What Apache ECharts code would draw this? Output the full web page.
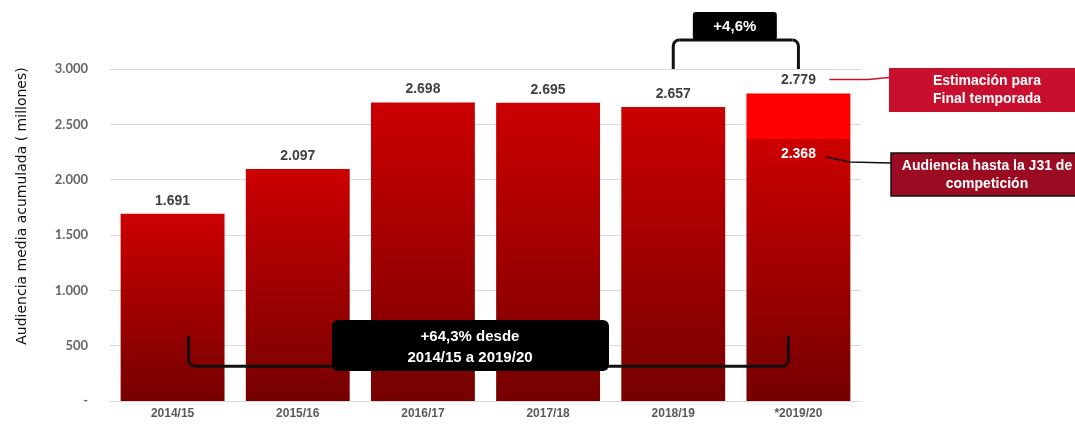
<!DOCTYPE html>
<html>
<head>
<meta charset="utf-8">
<script src="https://cdn.jsdelivr.net/npm/echarts@6/dist/echarts.min.js"></script>
<style>
html,body{margin:0;padding:0;background:#fff;}
#chart{width:1075px;height:424px;}
</style>
</head>
<body>
<div id="chart"></div>
<script>
//temporadas
var temporadas=['2014/15','2015/16','2016/17','2017/18','2018/19','*2019/20'];
//audiencia media acumulada (miles)
var audiencia=[1691,2097,2698,2695,2657,2368];
//estimacion final de la ultima temporada
var estimacionFinal=2779;

function fmt(v){
    var s=String(Math.round(v));
    return s.replace(/\B(?=(\d{3})+(?!\d))/g,'.');
}
var last=audiencia.length-1;
var extra=temporadas.map(function(t,i){return i==last?estimacionFinal-audiencia[i]:'-';});

var grad=new echarts.graphic.LinearGradient(0,0,0,1,[
    {offset:0,color:'#cc0000'},
    {offset:1,color:'#760000'}
]);
var chart=echarts.init(document.getElementById('chart'));
var option={
    animation:false,
    grid:{left:110,right:214,top:69,bottom:23},
    xAxis:{
        type:'category',
        data:temporadas,
        axisLine:{lineStyle:{color:'#d9d9d9',width:1}},
        axisTick:{show:false},
        axisLabel:{color:'#595959',fontWeight:'bold',fontSize:12,fontFamily:'Liberation Sans',margin:7}
    },
    yAxis:{
        type:'value',
        min:0,max:3000,interval:500,
        axisLine:{show:false},
        axisTick:{show:false},
        splitLine:{lineStyle:{color:'#d9d9d9'}},
        axisLabel:{
            color:'#666',fontWeight:'bold',fontSize:13,fontFamily:'Lato',margin:22,
            formatter:function(v){return v==0?'-':fmt(v);}
        }
    },
    series:[{
        type:'bar',
        stack:'a',
        barWidth:'83%',
        data:audiencia.map(function(v,i){
            return {value:v,label:i==last?{position:'insideTop',color:'#fff',offset:[0,2]}:{}};
        }),
        itemStyle:{color:grad},
        label:{show:true,position:'top',color:'#404040',fontWeight:'bold',fontSize:14,
            fontFamily:'Liberation Sans',distance:6,formatter:function(p){return fmt(p.value);}}
    },{
        type:'bar',
        stack:'a',
        barWidth:'83%',
        data:extra,
        itemStyle:{color:'#ff0000'},
        label:{show:true,position:'top',color:'#404040',fontWeight:'bold',fontSize:14,
            fontFamily:'Liberation Sans',distance:6,formatter:function(){return fmt(estimacionFinal);}}
    }]
};
chart.setOption(option);

//anotaciones
function px(i,v){return chart.convertToPixel({gridIndex:0},[i,v]);}
var a=px(4,3000),b=px(last,3000);
var c=px(0,590),d=px(last,315);
var lblTop=px(last,estimacionFinal),lblIn=px(last,audiencia[last]);
var txt={fill:'#fff',fontWeight:'bold',fontFamily:'Liberation Sans',fontSize:14,align:'center',verticalAlign:'middle'};
//llave con esquinas redondeadas
function bracket(x1,x2,yEnd,yMid){
    var r=6,up=yEnd>yMid,st={stroke:'#111',lineWidth:3,fill:null};
    var yc=up?yMid+r:yMid-r;
    return [
        {type:'line',z:100,shape:{x1:x1,y1:yEnd,x2:x1,y2:yc},style:st},
        {type:'line',z:100,shape:{x1:x2,y1:yEnd,x2:x2,y2:yc},style:st},
        {type:'line',z:100,shape:{x1:x1+r,y1:yMid,x2:x2-r,y2:yMid},style:st},
        {type:'arc',z:100,shape:{cx:x1+r,cy:yc,r:r,startAngle:up?Math.PI:Math.PI/2,endAngle:up?Math.PI*1.5:Math.PI},style:st},
        {type:'arc',z:100,shape:{cx:x2-r,cy:yc,r:r,startAngle:up?Math.PI*1.5:0,endAngle:up?Math.PI*2:Math.PI/2},style:st}
    ];
}
var els=[].concat(
    bracket(a[0],b[0],a[1],a[1]-29),
    bracket(c[0]+16,d[0]-10,c[1],d[1]),
    [
    {type:'text',x:22,y:206,rotation:Math.PI/2,
        style:{text:'Audiencia media acumulada ( millones)',fill:'#111',fontFamily:'DejaVu Sans',fontSize:14,
            fontWeight:'normal',align:'center',verticalAlign:'middle'}},
    {type:'rect',z:100,shape:{x:(a[0]+b[0])/2-43,y:12,width:84,height:28,r:3},style:{fill:'#000'}},
    {type:'text',z:101,x:(a[0]+b[0])/2-1,y:27,style:Object.assign({text:'+4,6%'},txt,{fontSize:15})},
    {type:'rect',z:100,shape:{x:332,y:320,width:277,height:51,r:6},style:{fill:'#000'}},
    {type:'text',z:101,x:470,y:347,style:Object.assign({text:'+64,3% desde\n2014/15 a 2019/20',lineHeight:21},txt,{fontSize:15})},
    {type:'polyline',z:100,shape:{points:[[lblTop[0]+31,lblTop[1]-14],[868,lblTop[1]-14],[889,lblTop[1]-16]]},
        style:{stroke:'#c8102e',lineWidth:1.5,fill:null}},
    {type:'rect',z:100,shape:{x:889,y:68,width:186,height:44},style:{fill:'#c8102e'}},
    {type:'text',z:101,x:987,y:90,style:Object.assign({text:'Estimación para\nFinal temporada',lineHeight:18,fontSize:13.5},txt)},
    {type:'polyline',z:100,shape:{points:[[lblIn[0]+28,lblIn[1]+18],[850,lblIn[1]+23],[891,lblIn[1]+24]]},
        style:{stroke:'#111',lineWidth:1.5,fill:null}},
    {type:'rect',z:100,shape:{x:891,y:153,width:190,height:43},style:{fill:'#9b0c22',stroke:'#111',lineWidth:1.5}},
    {type:'text',z:101,x:987,y:175,style:Object.assign({text:'Audiencia hasta la J31 de\ncompetición',lineHeight:18,fontSize:13.5},txt)}
    ]
);
chart.setOption({graphic:els});
</script>
</body>
</html>
